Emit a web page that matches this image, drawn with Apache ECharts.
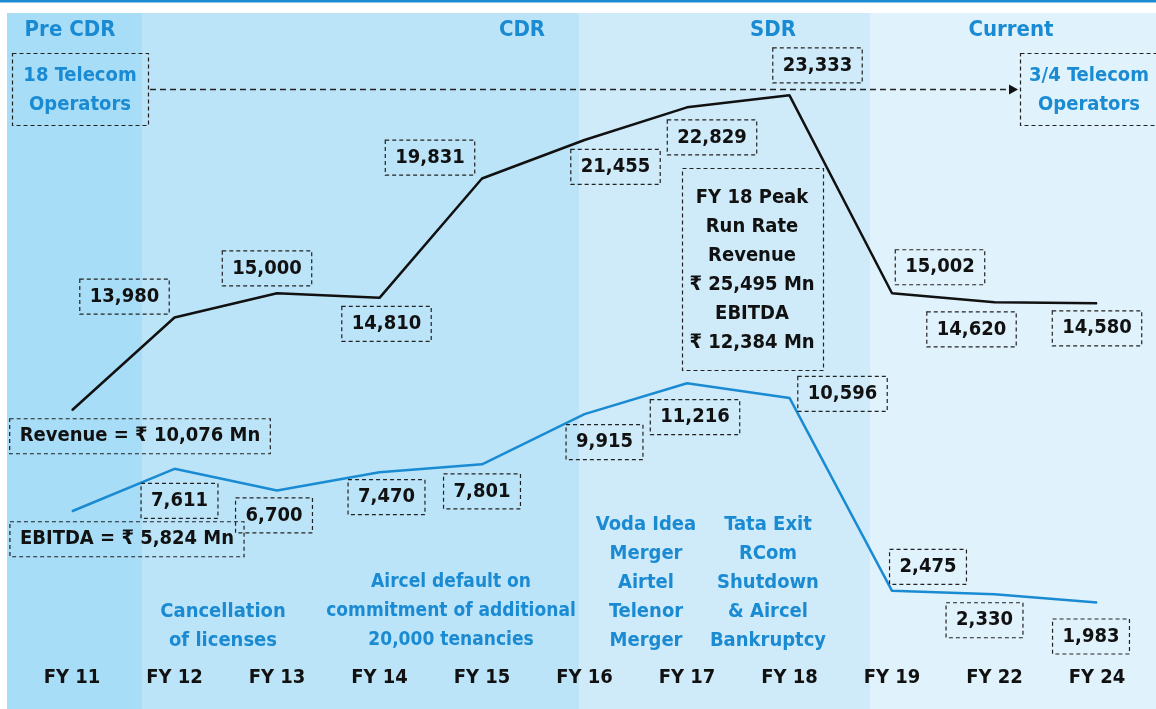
<!DOCTYPE html>
<html lang="en">
<head>
    <meta charset="UTF-8">
    <title>Revenue and EBITDA</title>
    <style>
        html,body{margin:0;padding:0;background:#fff;}
        #chart{width:1156px;height:709px;}
    </style>
</head>
<body>
<div id="chart"></div>
<script src="https://cdn.jsdelivr.net/npm/echarts@6/dist/echarts.min.js"></script>
<script>
    // data
    const categories = ['FY 11','FY 12','FY 13','FY 14','FY 15','FY 16','FY 17','FY 18','FY 19','FY 22','FY 24'];
    const revenue = [10076,13980,15000,14810,19831,21455,22829,23333,15002,14620,14580];
    const ebitda = [5824,7611,6700,7470,7801,9915,11216,10596,2475,2330,1983];
    const phases = ['Pre CDR','CDR','SDR','Current'];
    const phaseEdges = [-0.634,0.683,4.946,7.785,10.6];
    const phaseColors = ['#a8ddf7','#bce4f8','#cfebfa','#e0f2fc'];

    // label box offsets from each point (px)
    const revOffsets = [[68,26],[-50,-21],[-10,-25],[7,26],[-52,-21],[31,27],[25,30],[28,-30],[48,-26],[-23,27],[0,25]];
    const ebOffsets = [[55,28],[5,32],[-3,25],[7,25],[0,27],[20,28],[8,34],[53,-4],[36,-24],[-10,26],[-6,34]];

    const FONT = "'Liberation Sans Narrow','DejaVu Sans Condensed','Roboto Condensed',sans-serif";
    const BLUE = '#1a8bd2';

    const fmt = v => v.toLocaleString('en-US');

    function boxLabel(offset, text){
        return {
            show: true, position: 'inside', offset: offset,
            formatter: text,
            color: '#111', fontFamily: FONT, fontWeight: 'bold', fontSize: 20,
            borderColor: '#222', borderWidth: 1.2, borderType: [4,3],
            padding: [8,10,7,10]
        };
    }

    const revData = revenue.map((v,i) => ({
        value: [i, v],
        label: boxLabel(revOffsets[i], i === 0 ? 'Revenue = ₹ ' + fmt(v) + ' Mn' : fmt(v))
    }));
    const ebData = ebitda.map((v,i) => ({
        value: [i, v],
        label: boxLabel(ebOffsets[i], i === 0 ? 'EBITDA = ₹ ' + fmt(v) + ' Mn' : fmt(v))
    }));

    const areas = phases.map((p,i) => [
        {xAxis: phaseEdges[i], itemStyle: {color: phaseColors[i]}},
        {xAxis: phaseEdges[i+1]}
    ]);

    function txt(text, x, y, color, size){
        return {
            type: 'text', x: x, y: y, z: 50,
            style: {
                text: text, fill: color, fontFamily: FONT, fontWeight: 'bold', fontSize: size || 20,
                textAlign: 'center', textVerticalAlign: 'middle', lineHeight: 29
            }
        };
    }
    function dashBox(x, y, w, h){
        return {
            type: 'rect', z: 50,
            shape: {x: x, y: y, width: w, height: h},
            style: {fill: 'none', stroke: '#222', lineWidth: 1.2, lineDash: [4,3]}
        };
    }

    const chart = echarts.init(document.getElementById('chart'));
    chart.setOption({
        animation: false,
        backgroundColor: '#fff',
        grid: {left: -30.5, right: -43.5, top: 13, bottom: 0, outerBoundsMode: 'none', containLabel: false},
        xAxis: {
            type: 'value', min: -1, max: 11, interval: 1, z: 10,
            axisLine: {show: false}, axisTick: {show: false}, splitLine: {show: false},
            axisLabel: {
                inside: true, margin: 21, showMinLabel: true, showMaxLabel: true, hideOverlap: false,
                color: '#111', fontFamily: FONT, fontWeight: 'bold', fontSize: 20,
                formatter: v => categories[v] || ''
            }
        },
        yAxis: {
            type: 'value', min: -2500, max: 26800, show: false, splitLine: {show: false}
        },
        series: [
            {
                type: 'line', data: [], z: 0, silent: true,
                markArea: {silent: true, label: {show: false}, data: areas}
            },
            {
                name: 'Revenue', type: 'line', data: revData, z: 5,
                symbol: 'circle', symbolSize: 1,
                itemStyle: {color: '#111'},
                lineStyle: {color: '#111', width: 2.5}
            },
            {
                name: 'EBITDA', type: 'line', data: ebData, z: 5,
                symbol: 'circle', symbolSize: 1,
                itemStyle: {color: BLUE},
                lineStyle: {color: BLUE, width: 2.5}
            }
        ],
        graphic: [
            {type: 'rect', shape: {x: 0, y: 0, width: 1156, height: 2.5}, style: {fill: BLUE}},
            txt('Pre CDR', 70, 30, BLUE, 22),
            txt('CDR', 522, 30, BLUE, 22),
            txt('SDR', 773, 30, BLUE, 22),
            txt('Current', 1011, 30, BLUE, 22),
            dashBox(12.5, 53.5, 136, 72),
            txt('18 Telecom\nOperators', 80, 90, BLUE),
            dashBox(1020.5, 53.5, 150, 72),
            txt('3/4 Telecom\nOperators', 1089, 90, BLUE),
            {type: 'line', z: 50, shape: {x1: 150, y1: 89.5, x2: 1010, y2: 89.5},
                style: {stroke: '#222', lineWidth: 1.3, lineDash: [6,4]}},
            {type: 'polygon', z: 50, shape: {points: [[1009,84.5],[1018,89.5],[1009,94.5]]},
                style: {fill: '#111'}},
            dashBox(682.5, 168.5, 141, 202),
            txt('FY 18 Peak\nRun Rate\nRevenue\n₹ 25,495 Mn\nEBITDA\n₹ 12,384 Mn', 752, 270, '#111'),
            txt('Cancellation\nof licenses', 223, 626, BLUE),
            txt('Aircel default on\ncommitment of additional\n20,000 tenancies', 451, 611, BLUE, 19),
            txt('Voda Idea\nMerger\nAirtel\nTelenor\nMerger', 646, 583, BLUE),
            txt('Tata Exit\nRCom\nShutdown\n& Aircel\nBankruptcy', 768, 583, BLUE)
        ]
    });
</script>
</body>
</html>
